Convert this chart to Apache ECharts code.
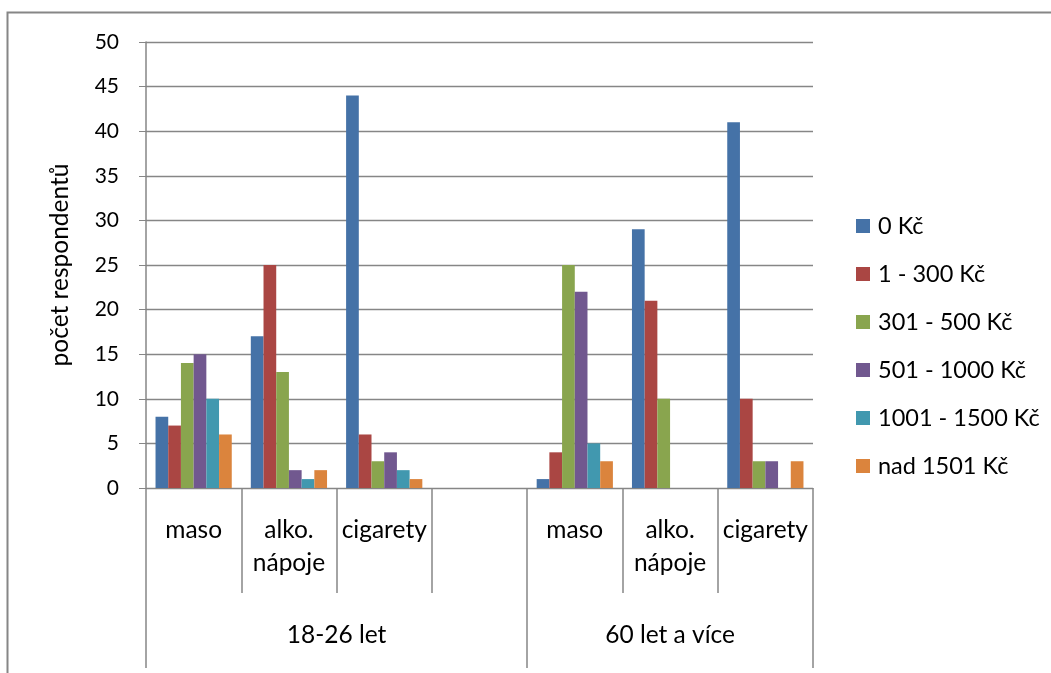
<!DOCTYPE html>
<html lang="cs">
<head>
<meta charset="utf-8">
<title>Výdaje respondentů</title>
<script src="https://cdn.jsdelivr.net/npm/echarts@6/dist/echarts.min.js"></script>
<style>
  html, body { margin: 0; padding: 0; background: #fff; }
  #chart { width: 1051px; height: 673px; }
</style>
</head>
<body>
<div id="chart"></div>
<script>
// Categories along the x axis (the empty slot separates the two age groups)
const categories = ['maso', 'alko. nápoje', 'cigarety', '', 'maso', 'alko. nápoje', 'cigarety'];

// Age groups and how many category slots each one spans
const groups = ['18-26 let', '60 let a více'];
const groupSizes = [4, 3];

// Spending bands (legend entries)
const bands = ['0 Kč', '1 - 300 Kč', '301 - 500 Kč', '501 - 1000 Kč', '1001 - 1500 Kč', 'nad 1501 Kč'];

// Number of respondents per band, one value per category slot
const band0 = [8, 17, 44, null, 1, 29, 41];
const band1 = [7, 25, 6, null, 4, 21, 10];
const band2 = [14, 13, 3, null, 25, 10, 3];
const band3 = [15, 2, 4, null, 22, 0, 3];
const band4 = [10, 1, 2, null, 5, 0, 0];
const band5 = [6, 2, 1, null, 3, 0, 3];

// Value axis ticks
const yMin = 0, yMax = 50, yStep = 5;

const colors = ['#4572A7', '#AA4643', '#89A54E', '#71588F', '#4198AF', '#DB843D'];
const bandValues = [band0, band1, band2, band3, band4, band5];

// Group boundaries and centres, in category-slot units
const groupEdges = [0];
const groupCentres = [];
groupSizes.forEach(function (n, i) {
  groupCentres.push(groupEdges[i] + n / 2);
  groupEdges.push(groupEdges[i] + n);
});

const gray = '#868686';
const font = "Lato, 'Liberation Sans', Arial, sans-serif";

const chart = echarts.init(document.getElementById('chart'), null, { renderer: 'canvas' });

chart.setOption({
  animation: false,
  color: colors,
  textStyle: { fontFamily: font },
  grid: { left: 146, right: 238, top: 42, bottom: 185, containLabel: false },
  legend: {
    orient: 'vertical',
    left: 856,
    top: 214,
    padding: 0,
    itemWidth: 14,
    itemHeight: 14,
    itemGap: 24,
    icon: 'rect',
    itemStyle: { borderWidth: 0 },
    textStyle: { fontFamily: font, fontSize: 23.5, lineHeight: 23, color: '#000', padding: [0, 0, 0, 3] },
    data: bands
  },
  xAxis: [
    {
      type: 'category',
      data: categories,
      position: 'bottom',
      axisLine: { show: true, lineStyle: { color: gray, width: 1 } },
      axisTick: { show: true, interval: 0, length: 105, alignWithLabel: false, lineStyle: { color: gray, width: 1.5 } },
      axisLabel: {
        interval: 0,
        margin: 26,
        color: '#000',
        fontFamily: font,
        fontSize: 24.5,
        lineHeight: 33,
        formatter: function (v) { return v.replace(' ', '\n'); }
      },
      splitLine: { show: false }
    },
    {
      // second level of the category axis: age groups
      type: 'value',
      min: 0,
      max: categories.length,
      position: 'bottom',
      axisLine: { show: false },
      splitLine: { show: false },
      axisTick: {
        show: true,
        length: 180,
        customValues: groupEdges,
        lineStyle: { color: gray, width: 1.5 }
      },
      axisLabel: {
        show: true,
        margin: 135,
        customValues: groupCentres,
        color: '#000',
        fontFamily: font,
        fontSize: 24.5,
        formatter: function (v) { return groups[groupCentres.indexOf(v)]; }
      }
    }
  ],
  yAxis: {
    type: 'value',
    min: yMin,
    max: yMax,
    interval: yStep,
    name: 'počet respondentů',
    nameLocation: 'middle',
    nameRotate: 90,
    nameGap: 73,
    nameTextStyle: { fontFamily: font, fontSize: 24.5, color: '#000' },
    axisLine: { show: true, lineStyle: { color: gray, width: 1.5 } },
    axisTick: { show: true, inside: false, length: 7, lineStyle: { color: gray, width: 1 } },
    axisLabel: { margin: 27, color: '#000', fontFamily: font, fontSize: 21 },
    splitLine: { show: true, lineStyle: { color: gray, width: 1.3 } }
  },
  series: bands.map(function (name, i) {
    return {
      name: name,
      type: 'bar',
      xAxisIndex: 0,
      barGap: '0%',
      barCategoryGap: '20%',
      itemStyle: { color: colors[i], borderWidth: 0 },
      data: bandValues[i]
    };
  }),
  graphic: [
    {
      // chart frame
      type: 'polyline',
      silent: true,
      shape: { points: [[7.5, 673], [7.5, 12.5], [1051, 12.5]] },
      style: { stroke: gray, lineWidth: 2, fill: null }
    }
  ]
});
</script>
</body>
</html>
